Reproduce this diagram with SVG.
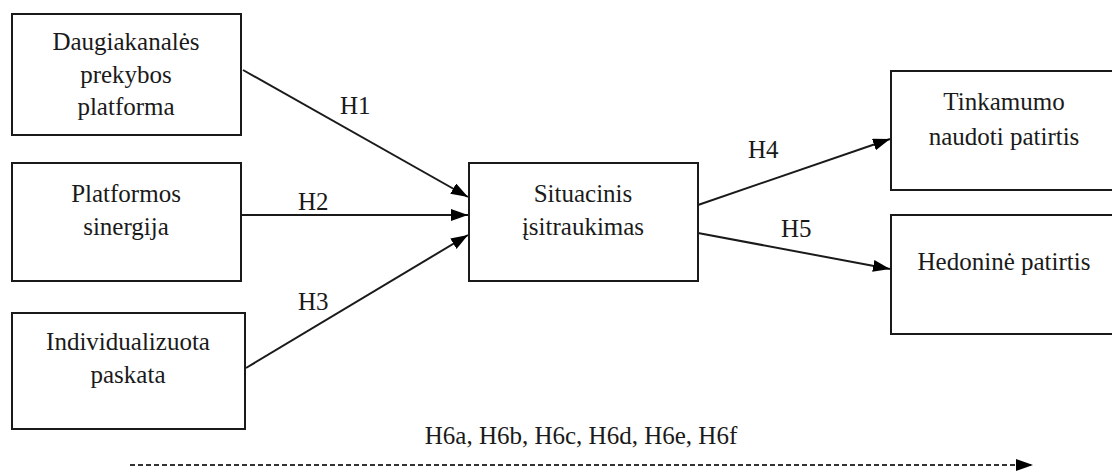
<svg xmlns="http://www.w3.org/2000/svg" width="1112" height="471" viewBox="0 0 1112 471">
  <style>
    text { font-family: "Liberation Serif", "Times New Roman", serif; font-size: 25px; fill: #1a1a1a; }
    .lbl { text-anchor: middle; }
    .box { fill: #ffffff; stroke: #1a1a1a; stroke-width: 2; }
    .link { fill: none; stroke: #1a1a1a; stroke-width: 2; }
    .dash { fill: none; stroke: #333333; stroke-width: 2; stroke-dasharray: 5 3; }
  </style>
  <defs>
    <marker id="arrow" markerUnits="userSpaceOnUse" markerWidth="18" markerHeight="14" refX="17" refY="6" orient="auto">
      <path d="M0,0 L17,6 L0,12 z" fill="#000000"/>
    </marker>
  </defs>

  <rect width="1112" height="471" fill="#ffffff"/>

  <!-- connectors -->
  <g id="connectors">
    <line class="link" x1="243" y1="70" x2="468" y2="197" marker-end="url(#arrow)"/>
    <line class="link" x1="241" y1="215" x2="468" y2="215" marker-end="url(#arrow)"/>
    <line class="link" x1="246" y1="368" x2="468" y2="235" marker-end="url(#arrow)"/>
    <line class="link" x1="698" y1="205" x2="890" y2="139" marker-end="url(#arrow)"/>
    <line class="link" x1="698" y1="233" x2="890" y2="269" marker-end="url(#arrow)"/>
    <line class="dash" x1="130" y1="465" x2="1033" y2="465" marker-end="url(#arrow)"/>
    <text x="340" y="114">H1</text>
    <text x="298" y="210">H2</text>
    <text x="298" y="310">H3</text>
    <text x="748" y="158">H4</text>
    <text x="781" y="237">H5</text>
    <text class="lbl" x="581" y="444">H6a, H6b, H6c, H6d, H6e, H6f</text>
  </g>

  <!-- nodes -->
  <g id="daugiakanales">
    <rect class="box" x="12" y="14" width="229" height="121"/>
    <text class="lbl" x="126" y="50">Daugiakanalės</text>
    <text class="lbl" x="126" y="83">prekybos</text>
    <text class="lbl" x="126" y="115">platforma</text>
  </g>
  <g id="sinergija">
    <rect class="box" x="12" y="163" width="229" height="118"/>
    <text class="lbl" x="126" y="202">Platformos</text>
    <text class="lbl" x="126" y="235">sinergija</text>
  </g>
  <g id="paskata">
    <rect class="box" x="12" y="313" width="233" height="116"/>
    <text class="lbl" x="128" y="350">Individualizuota</text>
    <text class="lbl" x="128" y="383">paskata</text>
  </g>
  <g id="isitraukimas">
    <rect class="box" x="469" y="163" width="229" height="118"/>
    <text class="lbl" x="583" y="202">Situacinis</text>
    <text class="lbl" x="583" y="235">įsitraukimas</text>
  </g>
  <g id="tinkamumo">
    <rect class="box" x="891" y="71" width="240" height="119"/>
    <text class="lbl" x="1004" y="110">Tinkamumo</text>
    <text class="lbl" x="1004" y="145">naudoti patirtis</text>
  </g>
  <g id="hedonine">
    <rect class="box" x="891" y="215" width="240" height="119"/>
    <text class="lbl" x="1004" y="270">Hedoninė patirtis</text>
  </g>
</svg>
